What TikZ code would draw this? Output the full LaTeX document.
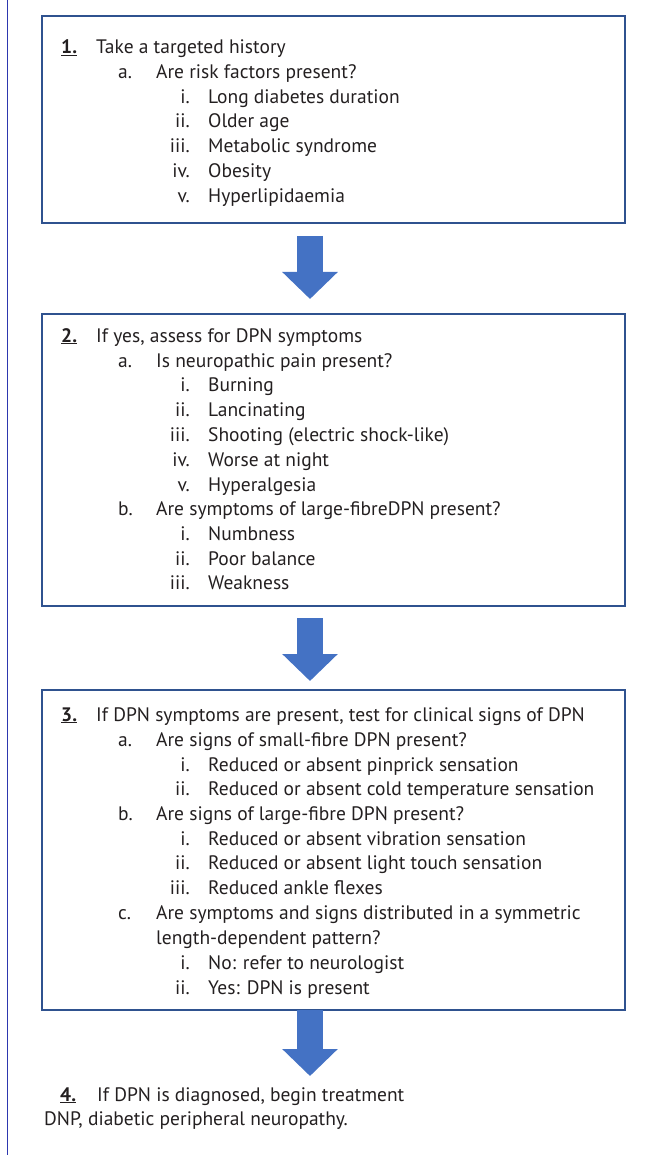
\documentclass[tikz,border=0pt]{standalone}
\usepackage{fontspec}
\setmainfont{PT Sans}
\usepackage{xcolor}
\usetikzlibrary{arrows.meta}
\definecolor{box edge}{RGB}{47,82,143}
\definecolor{arrow fill}{RGB}{68,114,196}
\definecolor{side line}{RGB}{45,55,175}
\definecolor{text ink}{RGB}{35,31,32}
\tikzstyle{stage} = [draw=box edge, line width=2.5pt, outer sep=0pt, inner sep=0pt, minimum width=583pt, anchor=north west]
\tikzset{line/.style={anchor=base west, inner sep=0pt, font=\fontsize{19.5}{23}\selectfont, text=text ink},
    tag/.style={line, anchor=base east},
    flow/.style={draw=arrow fill, line width=26pt, -{Triangle[length=27pt, width=54pt]}}}

\begin{document}
\begin{tikzpicture}[x=1pt,y=-1pt]
    % Indent positions
    \def\numx{61}
    \def\headx{96}
    \def\subx{118}
    \def\subtextx{156}
    \def\romx{190}
    \def\romtextx{208}
    %
    \useasboundingbox (0,0) rectangle (657,1155);
    \draw[side line, line width=1.5pt] (7.3,0) -- (7.3,1155);
    % Boxes
    \node[stage, minimum height=207pt] (hist) at (42,16) {};
    \node[stage, minimum height=292pt] (symp) at (42,314) {};
    \node[stage, minimum height=320pt] (sign) at (42,690) {};
    % Box 1
    \node[line] (n1) at (\numx,54) {\underline{\textbf{1.}}};
    \node[line] (h1) at (\headx,54) {Take a targeted history};
    \node[line] (a1) at (\subx,79) {a.};
    \node[line] (q1) at (\subtextx,79) {Are risk factors present?};
    \foreach \y/\n/\t in {104/i./{Long diabetes duration}, 128/ii./{Older age},
        153/iii./{Metabolic syndrome}, 178/iv./{Obesity}, 203/v./{Hyperlipidaemia}} {
        \node[tag] (l\y) at (\romx,\y) {\n};
        \node[line] (t\y) at (\romtextx,\y) {\t};
    }
    % Box 2
    \node[line] (n2) at (\numx,342) {\underline{\textbf{2.}}};
    \node[line] (h2) at (\headx,342) {If yes, assess for DPN symptoms};
    \foreach \y/\n/\t in {367/a./{Is neuropathic pain present?},
        515/b./{Are symptoms of large-fibreDPN present?}} {
        \node[line] (l\y) at (\subx,\y) {\n};
        \node[line] (t\y) at (\subtextx,\y) {\t};
    }
    \foreach \y/\n/\t in {391/i./{Burning}, 416/ii./{Lancinating},
        441/iii./{Shooting (electric shock-like)}, 466/iv./{Worse at night},
        491/v./{Hyperalgesia}, 540/i./{Numbness}, 565/ii./{Poor balance},
        589/iii./{Weakness}} {
        \node[tag] (r\y) at (\romx,\y) {\n};
        \node[line] (s\y) at (\romtextx,\y) {\t};
    }
    % Box 3
    \node[line] (n3) at (\numx,721) {\underline{\textbf{3.}}};
    \node[line] (h3) at (\headx,721) {If DPN symptoms are present, test for clinical signs of DPN};
    \foreach \y/\n/\t in {746/a./{Are signs of small-fibre DPN present?},
        820/b./{Are signs of large-fibre DPN present?},
        919/c./{Are symptoms and signs distributed in a symmetric}} {
        \node[line] (l\y) at (\subx,\y) {\n};
        \node[line] (t\y) at (\subtextx,\y) {\t};
    }
    \node[line] (t944) at (\subtextx,944) {length-dependent pattern?};
    \foreach \y/\n/\t in {771/i./{Reduced or absent pinprick sensation},
        795/ii./{Reduced or absent cold temperature sensation},
        845/i./{Reduced or absent vibration sensation},
        869/ii./{Reduced or absent light touch sensation},
        894/iii./{Reduced ankle flexes},
        969/i./{No: refer to neurologist}, 994/ii./{Yes: DPN is present}} {
        \node[tag] (r\y) at (\romx,\y) {\n};
        \node[line] (s\y) at (\romtextx,\y) {\t};
    }
    % Step 4 and footnote
    \coordinate (tip) at (310,1076);
    \node[line] (n4) at (60,1101) {\underline{\textbf{4.}}};
    \node[line] (h4) at (97,1101) {If DPN is diagnosed, begin treatment};
    \node[line] (note) at (44,1125) {DNP, diabetic peripheral neuropathy.};
    % Arrows
    \draw[flow, shorten <=13pt, shorten >=15pt] ([xshift=-23.5pt]hist.south) -- ([xshift=-23.5pt]symp.north);
    \draw[flow, shorten <=12pt, shorten >=9pt] ([xshift=-23.5pt]symp.south) -- ([xshift=-23.5pt]sign.north);
    \draw[flow] ([xshift=-23.5pt]sign.south) -- (tip);
\end{tikzpicture}
\end{document}
